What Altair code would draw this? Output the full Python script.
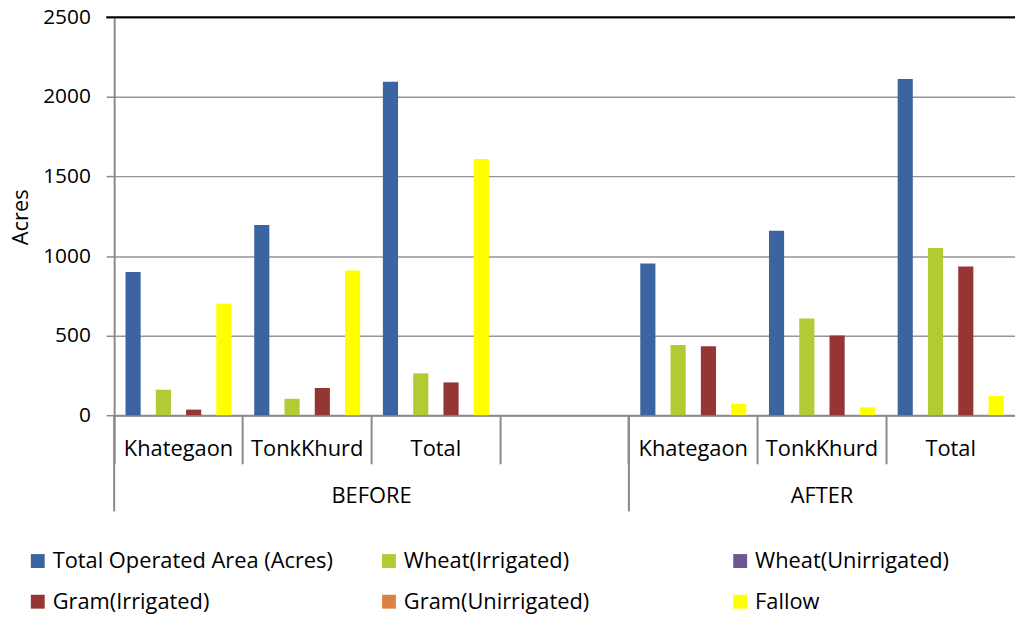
import altair as alt
import pandas as pd

# ---------------- data ----------------
slots = ["B-Khategaon", "B-TonkKhurd", "B-Total", "B-Blank",
         "A-Khategaon", "A-TonkKhurd", "A-Total"]
slot_labels = ["Khategaon", "TonkKhurd", "Total", "",
               "Khategaon", "TonkKhurd", "Total"]
data_slots = ["B-Khategaon", "B-TonkKhurd", "B-Total",
              "A-Khategaon", "A-TonkKhurd", "A-Total"]

series = ["Total Operated Area (Acres)", "Wheat(Irrigated)", "Wheat(Unirrigated)",
          "Gram(Irrigated)", "Gram(Unirrigated)", "Fallow"]
colors = ["#3C64A0", "#B0CB34", "#6F5690", "#963634", "#DD8342", "#FFFF00"]
# bar order inside each category (one empty position after the first series)
offset_order = ["Total Operated Area (Acres)", " ", "Wheat(Irrigated)", "Wheat(Unirrigated)",
                "Gram(Irrigated)", "Gram(Unirrigated)", "Fallow"]

total_area = [900, 1195, 2095, 954, 1159, 2113]
wheat_irr = [160, 103, 263, 441, 607, 1050]
wheat_unirr = [0, 0, 0, 0, 0, 0]
gram_irr = [35, 171, 206, 434, 500, 934]
gram_unirr = [0, 0, 0, 0, 0, 0]
fallow = [700, 910, 1610, 72, 49, 121]

groups = ["BEFORE", "AFTER"]
group_start_slots = ["B-Khategaon", "A-Khategaon"]
y_ticks = [0, 500, 1000, 1500, 2000, 2500]

# ---------------- build table ----------------
vals = [total_area, wheat_irr, wheat_unirr, gram_irr, gram_unirr, fallow]
rows = []
for s, v in zip(series, vals):
    for slot, val in zip(data_slots, v):
        rows.append({"slot": slot, "series": s, "value": val})
df = pd.DataFrame(rows)

FONT = "Open Sans"
GRAY = "#8A8A8A"
W = 908
H = 401

# the last category runs slightly past the right edge of the picture
xscale = alt.Scale(domain=slots, paddingInner=0,
                   paddingOuter=alt.ExprRef("-0.0306"), align=0)

bars = alt.Chart(df).mark_bar().encode(
    x=alt.X("slot:N", scale=xscale, sort=slots,
            axis=alt.Axis(title=None, labels=False, ticks=True, tickSize=49,
                          bandPosition=0, domainColor=GRAY, domainWidth=2,
                          tickColor=GRAY, tickWidth=2, grid=False)),
    xOffset=alt.XOffset("series:N",
                        scale=alt.Scale(domain=offset_order, paddingInner=0, paddingOuter=0.75)),
    y=alt.Y("value:Q", scale=alt.Scale(domain=[0, 2500], nice=False),
            axis=alt.Axis(values=y_ticks, format="d", title="Acres", titleFont=FONT,
                          titleFontSize=22, titleFontWeight="normal", titleColor="black",
                          titleX=-87, titleY=201, titleBaseline="alphabetic",
                          labelFont=FONT, labelFontSize=21, labelColor="black",
                          labelPadding=16, tickSize=8, tickColor=GRAY, tickWidth=1.5,
                          domainColor=GRAY, domainWidth=2,
                          grid=True, gridColor="#969696", gridWidth=1.4)),
    color=alt.Color("series:N", scale=alt.Scale(domain=series, range=colors),
                    legend=alt.Legend(title=None, orient="none", legendX=-88, legendY=537,
                                      direction="horizontal",
                                      columns=3, gridAlign="all", columnPadding=45,
                                      rowPadding=19, symbolType="square", symbolSize=196,
                                      symbolStrokeWidth=0, symbolOpacity=1,
                                      labelFont=FONT, labelFontSize=22, labelColor="black",
                                      labelOffset=4, labelLimit=500, padding=0)),
)

top_line = alt.Chart(pd.DataFrame({"v": [2500]})).mark_rule(color="black", strokeWidth=2).encode(
    y="v:Q", x=alt.value(-8), x2=alt.value(W)
)

cat_df = pd.DataFrame({"slot": slots, "label": slot_labels})
cat_labels = alt.Chart(cat_df).mark_text(font=FONT, fontSize=22, color="black",
                                         baseline="alphabetic").encode(
    x=alt.X("slot:N"), y=alt.value(H + 41), text="label:N"
)

div_df = pd.DataFrame({"slot": group_start_slots})
dividers = alt.Chart(div_df).mark_rule(color=GRAY, strokeWidth=2).encode(
    x=alt.X("slot:N", bandPosition=0), y=alt.value(H), y2=alt.value(H + 97)
)

before_lbl = alt.Chart(pd.DataFrame({"slot": ["B-Total"], "g": [groups[0]]})).mark_text(
    font=FONT, fontSize=22, color="black", baseline="alphabetic").encode(
    x=alt.X("slot:N", bandPosition=0), y=alt.value(H + 89), text="g:N"
)
after_lbl = alt.Chart(pd.DataFrame({"slot": ["A-TonkKhurd"], "g": [groups[1]]})).mark_text(
    font=FONT, fontSize=22, color="black", baseline="alphabetic").encode(
    x=alt.X("slot:N", bandPosition=0.5), y=alt.value(H + 89), text="g:N"
)

chart = alt.layer(bars, top_line, dividers, cat_labels, before_lbl, after_lbl).properties(
    width=W, height=H,
    autosize=alt.AutoSizeParams(type="none"),
    padding={"left": 107, "top": 7, "right": 0, "bottom": 203},
).configure_view(stroke=None).configure(font=FONT)

chart.save("out.html", embed_options={"renderer": "svg", "actions": False})
